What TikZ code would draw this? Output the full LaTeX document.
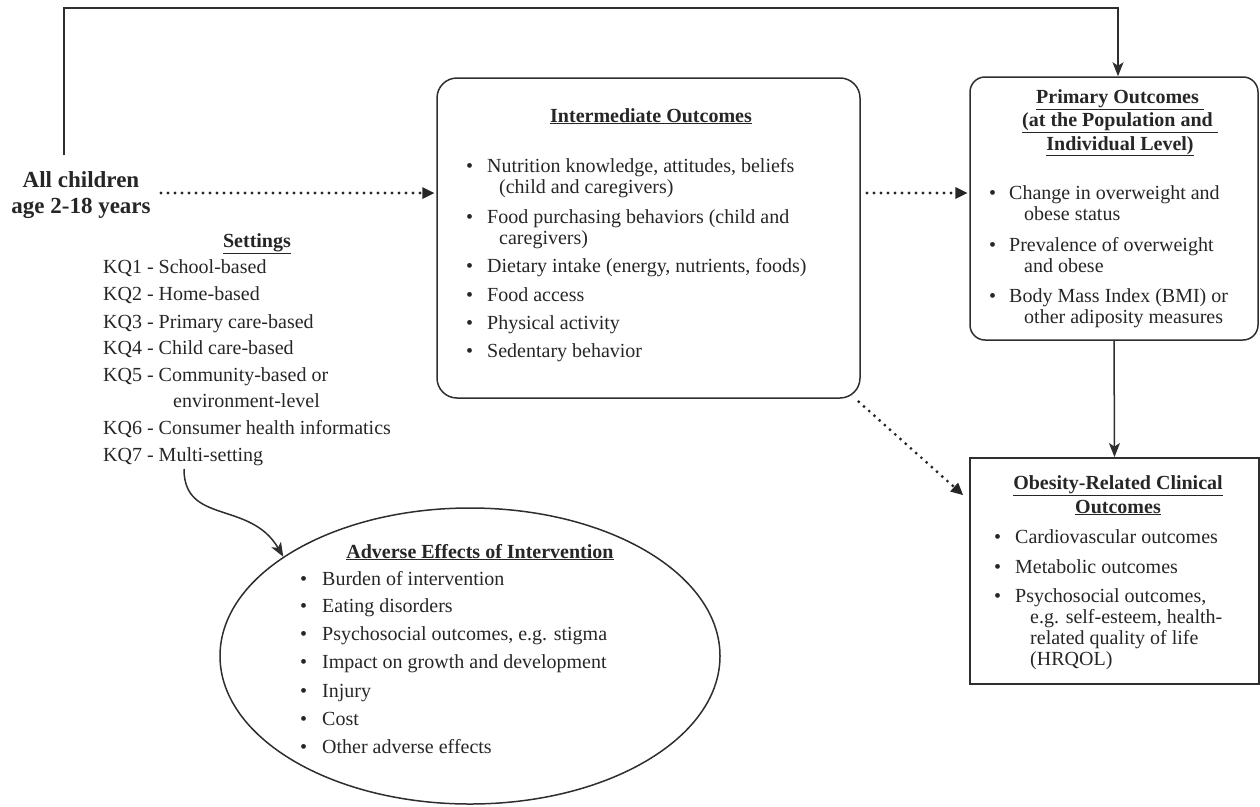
\documentclass[tikz,border=0pt]{standalone}
\usepackage{fontspec}
\setmainfont{Liberation Serif}
\usetikzlibrary{arrows.meta,shapes.geometric,calc}
\definecolor{ink}{HTML}{262626}
\definecolor{edge}{HTML}{2E2E2E}
\tikzset{
  txt/.style={inner sep=0pt, text=ink, font=\fontsize{20}{21}\selectfont, align=left, anchor=base west},
  ttl/.style={inner sep=0pt, text=ink, font=\fontsize{20}{23.5}\selectfont\bfseries, align=center, anchor=base},
  rbox/.style={draw=edge, line width=1.5pt, rounded corners=#1, inner sep=0pt},
  sbox/.style={draw=edge, line width=1.9pt, inner sep=0pt},
  solidarrow/.style={draw=edge, line width=1.5pt, -{Stealth[length=14pt,width=11pt,inset=3.5pt]}},
  dotarrow/.style={draw=ink, line width=3.2pt, line cap=round, dash pattern=on 0pt off 7pt, -{Triangle[length=12pt,width=12pt,line width=0pt]}},
}
% last-line baseline is used as anchor for multi-line items
\newcommand\itm[5]{\node[txt] (#1) at (#2,#3) {\makebox[#4pt][l]{\textbullet}#5};}
\begin{document}
\begin{tikzpicture}[x=1pt,y=-1pt]
\useasboundingbox (0,0) rectangle (1260,806);
% boxes
\node[rbox=20pt, minimum width=423pt, minimum height=320pt] (inter) at (648.5,238) {};
\node[rbox=15pt, minimum width=288pt, minimum height=263pt] (prim) at (1114,208.5) {};
\node[sbox, minimum width=289pt, minimum height=226pt] (obes) at (1114.5,571) {};
\node[draw=edge, line width=1.5pt, ellipse, inner sep=0pt, minimum width=500pt, minimum height=296pt] (ell) at (470,656) {};

% population
\node[inner sep=0pt, text=ink, font=\fontsize{23}{26}\selectfont\bfseries, align=center, anchor=base] (all) at (81,213) {All children\\age 2-18 years};

% settings
\node[ttl] (settt) at (257,247) {\underline{Settings}};
\node[txt] (kq1) at (103,273) {KQ1 - School-based};
\node[txt] (kq2) at (103,300) {KQ2 - Home-based};
\node[txt] (kq3) at (103,328) {KQ3 - Primary care-based};
\node[txt] (kq4) at (103,354) {KQ4 - Child care-based};
\node[txt] (kq5) at (103,407) {KQ5 - Community-based or\\[5pt]\hspace*{70pt}environment-level};
\node[txt] (kq6) at (103,434) {KQ6 - Consumer health informatics};
\node[txt] (kq7) at (103,461) {KQ7 - Multi-setting};

% intermediate
\node[ttl] (intt) at (651,122) {\underline{Intermediate Outcomes}};
\itm{i1}{466}{193}{21}{Nutrition knowledge, attitudes, beliefs\\\hspace*{33pt}(child and caregivers)}
\itm{i2}{466}{244}{21}{Food purchasing behaviors (child and\\\hspace*{33pt}caregivers)}
\itm{i3}{466}{272}{21}{Dietary intake (energy, nutrients, foods)}
\itm{i4}{466}{301}{21}{Food access}
\itm{i5}{466}{329}{21}{Physical activity}
\itm{i6}{466}{357}{21}{Sedentary behavior}

% primary
\node[ttl] (primt) at (1120,150) {\underline{Primary Outcomes\ }\\\underline{(at the Population and\ }\\\underline{Individual Level)}};
\itm{p1}{989}{220}{20}{Change in overweight and\\\hspace*{35pt}obese status}
\itm{p2}{989}{272}{20}{Prevalence of overweight\\\hspace*{35pt}and obese}
\itm{p3}{989}{323}{20}{Body Mass Index (BMI) or\\\hspace*{35pt}other adiposity measures}

% obesity related
\node[ttl] (obest) at (1118,513) {\underline{Obesity-Related Clinical}\\\underline{Outcomes}};
\itm{o1}{994}{543}{21}{Cardiovascular outcomes}
\itm{o2}{994}{573}{21}{Metabolic outcomes}
\itm{o3}{994}{665}{21}{Psychosocial outcomes,\\\hspace*{36pt}e.g. self-esteem, health-\\\hspace*{36pt}related quality of life\\\hspace*{36pt}(HRQOL)}

% adverse
\node[ttl] (advt) at (480,558) {\underline{Adverse Effects of Intervention}};
\itm{a1}{300}{585}{22}{Burden of intervention}
\itm{a2}{300}{612}{22}{Eating disorders}
\itm{a3}{300}{640}{22}{Psychosocial outcomes, e.g. stigma}
\itm{a4}{300}{668}{22}{Impact on growth and development}
\itm{a5}{300}{697}{22}{Injury}
\itm{a6}{300}{725}{22}{Cost}
\itm{a7}{300}{753}{22}{Other adverse effects}

% connectors
\coordinate (allTop) at (64,155);
\coordinate (corner) at (1118,8);
\draw[solidarrow] (allTop) |- (corner) -- (corner |- prim.north);
\coordinate (d1) at (161,193);
\draw[dotarrow, shorten >=2pt] (d1) -- (d1 -| inter.west);
\coordinate (d2) at (867,193);
\draw[dotarrow, shorten >=2pt] (d2) -- (d2 -| prim.west);
\draw[dotarrow] ([shift={(-2,3)}]inter.south east) -- ([shift={(-6,38)}]obes.north west);
\draw[solidarrow] (prim.south) -- (obes.north);
\coordinate (ms) at (184,469);
\draw[solidarrow] (ms) .. controls (184,525) and (250,500) .. (ell.152);
\end{tikzpicture}
\end{document}
